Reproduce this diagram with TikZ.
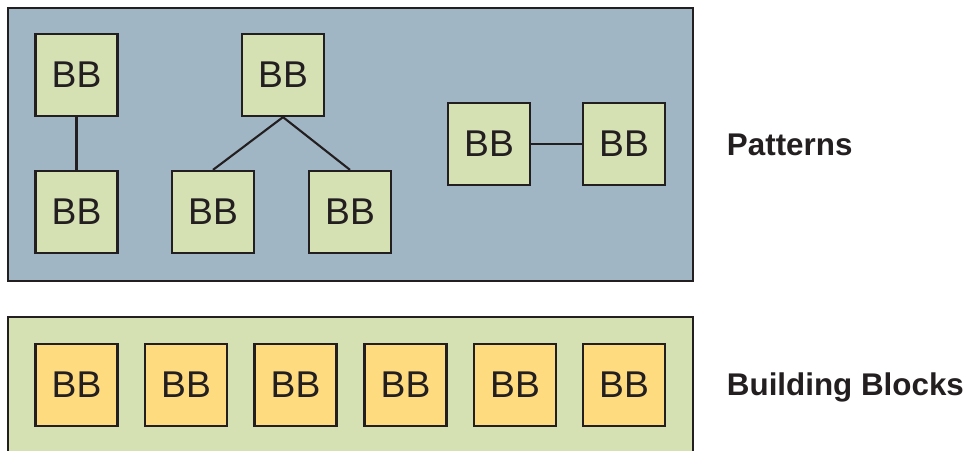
\documentclass[tikz,border=0pt]{standalone}
\usepackage{fontspec}
\setmainfont{Liberation Sans}
\definecolor{ink}{HTML}{231F20}
\definecolor{panelblue}{HTML}{A0B6C4}
\definecolor{panelgreen}{HTML}{D5E0B3}
\definecolor{bbyellow}{HTML}{FFDB80}
\tikzset{
  bb/.style={rectangle,draw=ink,line width=1.6pt,fill=panelgreen,
    minimum size=2.05cm,inner sep=0pt,text=ink,font=\fontsize{26.5}{30}\selectfont},
  bbleaf/.style={bb,fill=bbyellow},
  layer/.style={draw=ink,line width=1.6pt},
  link/.style={line width=1.5pt,draw=ink},
  tag/.style={anchor=west,text=ink,font=\fontsize{22.3}{26}\selectfont\bfseries}
}
\begin{document}
\begin{tikzpicture}[x=0.025cm,y=-0.025cm]
\useasboundingbox (0,0) rectangle (969,451);
\begin{scope}
\clip (0,0) rectangle (969,451);
% the two layers
\draw[layer,fill=panelblue] (8,8) rectangle (693,281);
\draw[layer,fill=panelgreen] (8,317) rectangle (693,470);
\end{scope}
% patterns: pair, tree, chain
\draw (76.5,75) node[bb] (p0) {BB};
\draw (76.5,212) node[bb] (p1) {BB};
\draw (283,75) node[bb] (t0) {BB};
\draw (213,212) node[bb] (t1) {BB};
\draw (350,212) node[bb] (t2) {BB};
\draw (489,144) node[bb] (c0) {BB};
\draw (624,144) node[bb] (c1) {BB};
\path[-] (p0) edge [link] (p1);
\path[-] (t0.south) edge [link] (t1.north);
\path[-] (t0.south) edge [link] (t2.north);
\path[-] (c0) edge [link] (c1);
% building blocks row
\foreach \i/\x in {0/76.5,1/186,2/295.5,3/405.5,4/515,5/624}
  \draw (\x,385) node[bbleaf] (b\i) {BB};
\node[tag] (patterns) at (722,145) {Patterns};
\node[tag] (blocks) at (722,387) {Building Blocks};
\end{tikzpicture}
\end{document}
